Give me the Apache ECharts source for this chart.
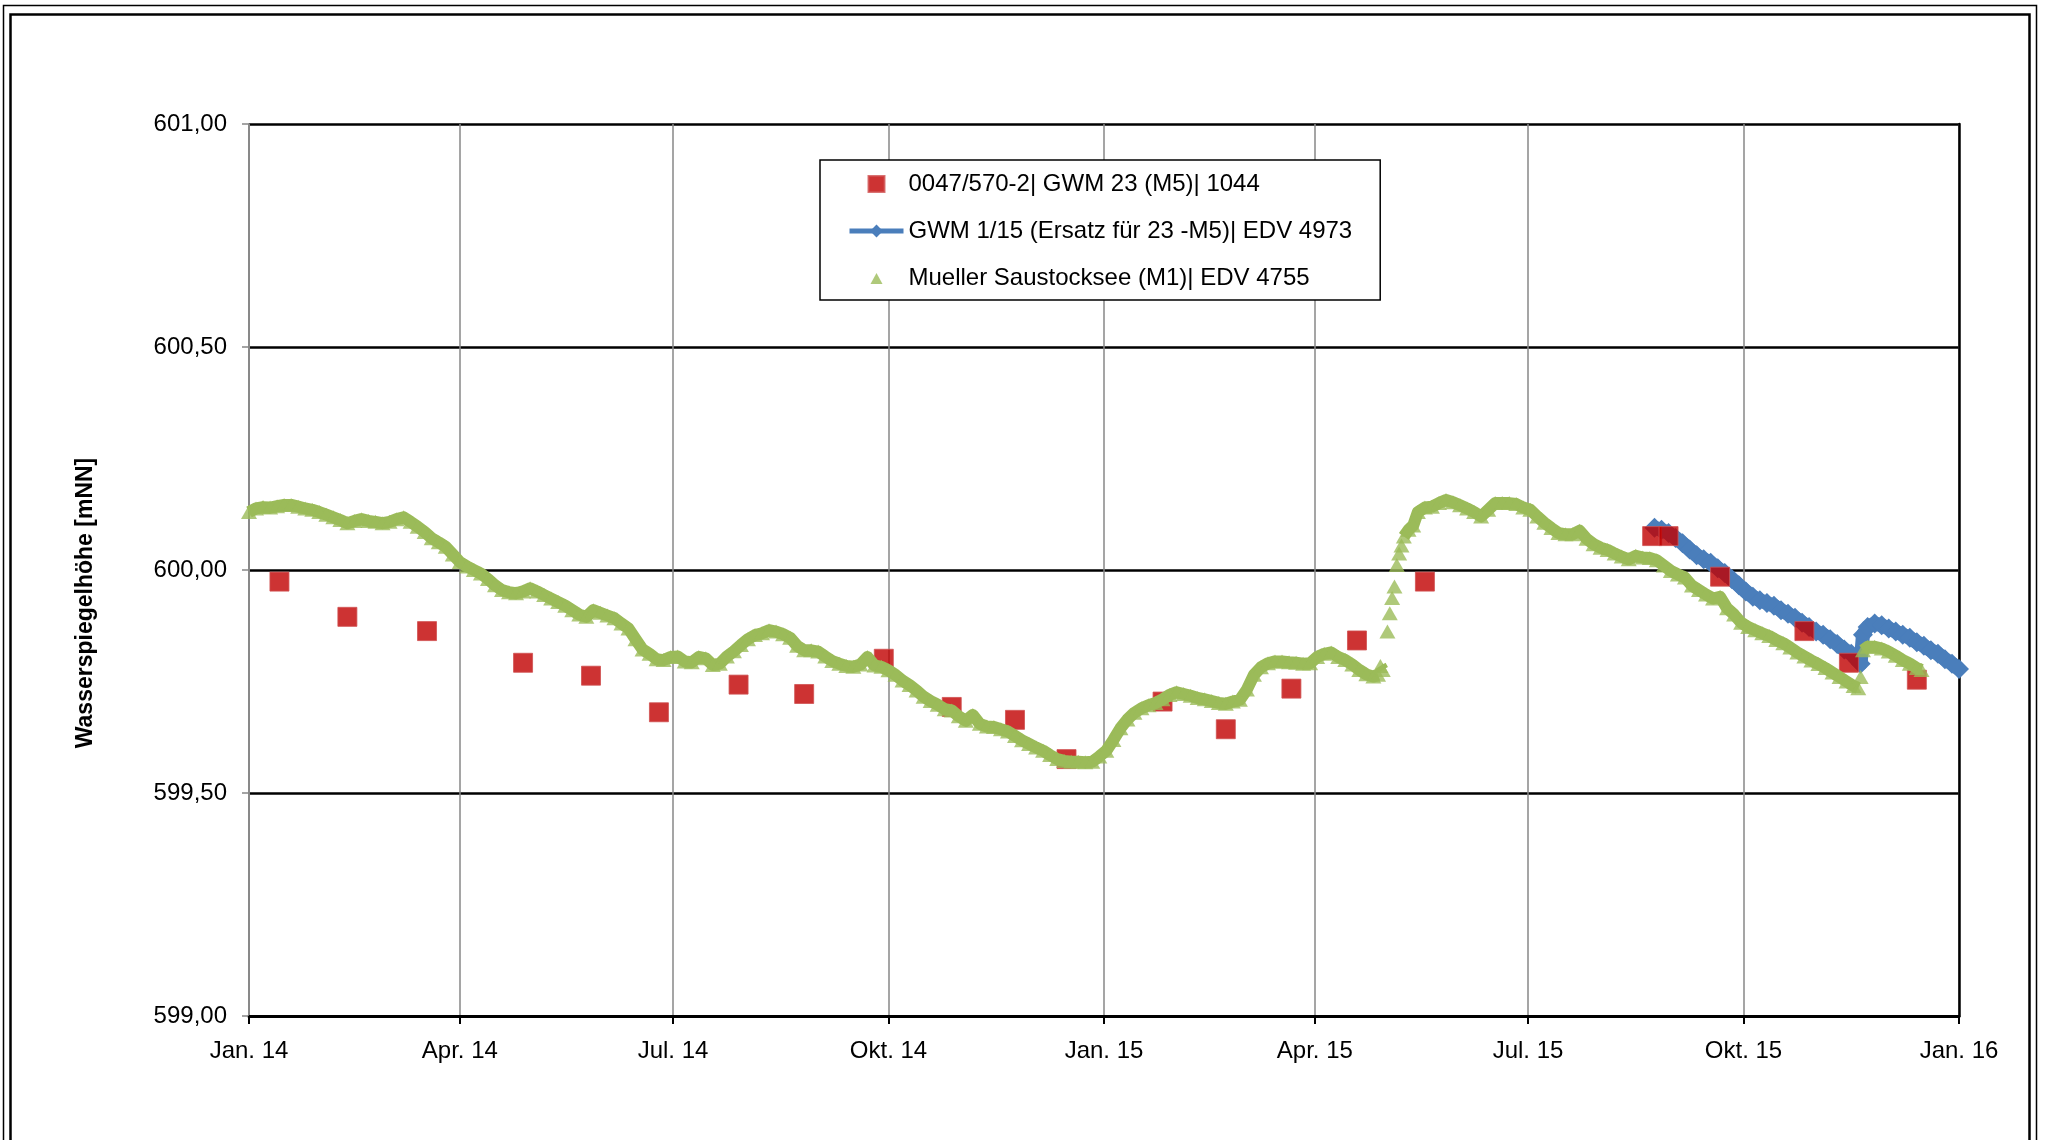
<!DOCTYPE html>
<html>
<head>
<meta charset="utf-8">
<title>Wasserspiegelhöhe</title>
<script src="https://cdn.jsdelivr.net/npm/echarts@6/dist/echarts.min.js"></script>
<style>
  html, body { margin: 0; padding: 0; background: #ffffff; }
  #chart { width: 2045px; height: 1140px; }
</style>
</head>
<body>
<div id="chart"></div>
<script>
// Series names as shown in the legend
const nameGwm23 = '0047/570-2| GWM 23 (M5)| 1044';
const nameGwm115 = 'GWM 1/15 (Ersatz für 23 -M5)| EDV 4973';
const nameSee = 'Mueller Saustocksee (M1)| EDV 4755';

// Tick labels
const monthLabels = { 0: 'Jan.', 3: 'Apr.', 6: 'Jul.', 9: 'Okt.' };
const yMin = 599, yMax = 601, yStep = 0.5;

// GWM 23 (M5): manual readings [date, water level mNN]
const gwm23 = [
  ['2014-01-14', 599.974], ['2014-02-12', 599.895], ['2014-03-18', 599.863],
  ['2014-04-28', 599.792], ['2014-05-27', 599.763], ['2014-06-25', 599.681],
  ['2014-07-29', 599.743], ['2014-08-26', 599.722], ['2014-09-29', 599.801],
  ['2014-10-28', 599.693], ['2014-11-24', 599.664], ['2014-12-16', 599.576],
  ['2015-01-26', 599.705], ['2015-02-22', 599.643], ['2015-03-22', 599.734],
  ['2015-04-19', 599.842], ['2015-05-18', 599.974], ['2015-08-23', 600.076],
  ['2015-08-30', 600.076], ['2015-09-21', 599.985], ['2015-10-27', 599.863],
  ['2015-11-15', 599.792], ['2015-12-14', 599.754]
];

// GWM 1/15 logger: [days since 1 Jan 2014, water level mNN]
const gwm115 = [
  [600, 600.095], [603, 600.090], [606, 600.083], [609, 600.072], [612, 600.060],
  [615, 600.046], [618, 600.033], [621, 600.024], [624, 600.016], [627, 600.004],
  [630, 599.993], [633, 599.980], [636, 599.966], [639, 599.952], [642, 599.940],
  [645, 599.932], [648, 599.926], [651, 599.920], [654, 599.910], [657, 599.902],
  [660, 599.893], [663, 599.882], [666, 599.872], [669, 599.862], [672, 599.855],
  [675, 599.845], [678, 599.834], [681, 599.822], [684, 599.812], [687, 599.796],
  [688, 599.790], [689, 599.855], [691, 599.872], [694, 599.880], [697, 599.876],
  [700, 599.869], [703, 599.862], [706, 599.855], [709, 599.848], [712, 599.838],
  [715, 599.830], [718, 599.820], [721, 599.812], [724, 599.800], [727, 599.790],
  [730, 599.778]
];

// Saustocksee gauge: [days since 1 Jan 2014, water level mNN]
const saustocksee = [
  [0, 600.130], [3, 600.138], [6, 600.141], [9, 600.140], [12, 600.143], [15, 600.146], [18, 600.146], [21, 600.142], [24, 600.138], [27, 600.135],
  [30, 600.130], [33, 600.124], [36, 600.118], [39, 600.112], [42, 600.105], [45, 600.110], [48, 600.114], [51, 600.110], [54, 600.108], [57, 600.105],
  [60, 600.108], [63, 600.114], [66, 600.118], [69, 600.108], [72, 600.097], [75, 600.085], [78, 600.071], [81, 600.062], [84, 600.052], [87, 600.035],
  [90, 600.018], [93, 600.008], [96, 600.000], [99, 599.992], [102, 599.980], [105, 599.966], [108, 599.955], [111, 599.950], [114, 599.948], [117, 599.952],
  [120, 599.959], [123, 599.952], [126, 599.944], [129, 599.936], [132, 599.928], [135, 599.920], [138, 599.910], [141, 599.900], [144, 599.895], [147, 599.910],
  [150, 599.904], [153, 599.898], [156, 599.892], [159, 599.880], [162, 599.869], [165, 599.845], [168, 599.822], [171, 599.812], [174, 599.800], [177, 599.798],
  [180, 599.805], [183, 599.806], [186, 599.795], [189, 599.793], [192, 599.805], [195, 599.802], [198, 599.787], [201, 599.790], [204, 599.806], [207, 599.818],
  [210, 599.832], [213, 599.845], [216, 599.854], [219, 599.858], [222, 599.865], [225, 599.862], [228, 599.856], [231, 599.848], [234, 599.830], [237, 599.820],
  [240, 599.820], [243, 599.817], [246, 599.806], [249, 599.796], [252, 599.790], [255, 599.785], [258, 599.783], [261, 599.788], [264, 599.805], [267, 599.786],
  [270, 599.783], [273, 599.775], [276, 599.765], [279, 599.752], [282, 599.742], [285, 599.730], [288, 599.716], [291, 599.706], [294, 599.698], [297, 599.688],
  [300, 599.685], [303, 599.672], [306, 599.662], [309, 599.675], [312, 599.655], [315, 599.649], [318, 599.648], [321, 599.643], [324, 599.638], [327, 599.628],
  [330, 599.618], [333, 599.610], [336, 599.602], [339, 599.595], [342, 599.585], [345, 599.576], [348, 599.572], [351, 599.570], [354, 599.570], [357, 599.569],
  [360, 599.570], [363, 599.582], [366, 599.595], [369, 599.619], [372, 599.645], [375, 599.665], [378, 599.680], [381, 599.690], [384, 599.697], [387, 599.702],
  [390, 599.710], [393, 599.720], [396, 599.726], [399, 599.722], [402, 599.718], [405, 599.713], [408, 599.710], [411, 599.706], [414, 599.702], [417, 599.700],
  [420, 599.705], [423, 599.709], [426, 599.732], [429, 599.765], [432, 599.782], [435, 599.791], [438, 599.795], [441, 599.795], [444, 599.793], [447, 599.792],
  [450, 599.790], [453, 599.791], [456, 599.805], [459, 599.812], [462, 599.815], [465, 599.805], [468, 599.798], [471, 599.788], [474, 599.776], [477, 599.766],
  [480, 599.761], [482, 599.765], [483, 599.785], [484, 599.776], [486, 599.862], [487, 599.903], [488, 599.937], [489, 599.963], [490, 600.011], [491, 600.037],
  [492, 600.055], [493, 600.075], [495, 600.090], [497, 600.100], [499, 600.130], [502, 600.140], [505, 600.142], [508, 600.150], [511, 600.157], [514, 600.152],
  [517, 600.145], [520, 600.138], [523, 600.130], [526, 600.120], [529, 600.135], [532, 600.150], [535, 600.150], [538, 600.150], [541, 600.148], [544, 600.140],
  [547, 600.135], [550, 600.120], [553, 600.106], [556, 600.094], [559, 600.083], [562, 600.080], [565, 600.080], [568, 600.088], [571, 600.070], [574, 600.058],
  [577, 600.050], [580, 600.045], [583, 600.037], [586, 600.030], [589, 600.024], [592, 600.032], [595, 600.028], [598, 600.027], [601, 600.022], [604, 600.010],
  [607, 599.998], [610, 599.990], [613, 599.983], [616, 599.965], [619, 599.955], [622, 599.945], [625, 599.936], [628, 599.940], [631, 599.914], [634, 599.900],
  [637, 599.882], [640, 599.872], [643, 599.865], [646, 599.858], [649, 599.852], [652, 599.843], [655, 599.836], [658, 599.826], [661, 599.815], [664, 599.806],
  [667, 599.797], [670, 599.789], [673, 599.780], [676, 599.770], [679, 599.760], [682, 599.750], [685, 599.740], [687, 599.735], [688, 599.760], [689, 599.820],
  [691, 599.828], [694, 599.828], [697, 599.824], [700, 599.817], [703, 599.808], [706, 599.798], [709, 599.790], [712, 599.780], [714, 599.776]
];

const FONT = '"Liberation Sans", Arial, sans-serif';
const DAY = 24 * 3600 * 1000;

function dayToTime(d) {
  return new Date(2014, 0, 1 + d).getTime();
}
function dateToTime(s) {
  const p = s.split('-').map(Number);
  return new Date(p[0], p[1] - 1, p[2]).getTime();
}

// The dense daily gauge markers merge into a solid band; draw that band as a
// thick line under the markers, broken wherever the level changes faster than
// 1.5 cm per day so fast rises show as single markers.
const seeBand = [];
saustocksee.forEach(function (r, i) {
  if (i > 0) {
    const prev = saustocksee[i - 1];
    if (Math.abs(r[1] - prev[1]) / (r[0] - prev[0]) > 0.015) {
      seeBand.push([dayToTime((r[0] + prev[0]) / 2), '-']);
    }
  }
  seeBand.push([dayToTime(r[0]), r[1]]);
});

const chart = echarts.init(document.getElementById('chart'), null, { renderer: 'canvas' });

chart.setOption({
  animation: false,
  backgroundColor: '#ffffff',
  textStyle: { fontFamily: FONT, color: '#000' },
  grid: { left: 249, right: 86, top: 124, bottom: 124, containLabel: false },
  legend: {
    orient: 'vertical',
    left: 820,
    top: 160,
    padding: [12, 28, 10, 27],
    itemWidth: 54,
    itemHeight: 16,
    itemGap: 23,
    borderColor: '#000',
    borderWidth: 1.5,
    backgroundColor: '#fff',
    symbolKeepAspect: true,
    lineStyle: { width: 5 },
    textStyle: { fontFamily: FONT, fontSize: 24, color: '#000' },
    data: [
      { name: nameGwm23, icon: 'path://M0,0L10,0L10,10L0,10Z' },
      { name: nameGwm115 },
      { name: nameSee, icon: 'path://M0,0M16,16M2,14L8,3L14,14Z' }
    ]
  },
  xAxis: {
    type: 'time',
    min: dayToTime(0),
    max: dayToTime(730),
    splitNumber: 8,
    minInterval: 89 * DAY,
    maxInterval: 92 * DAY,
    axisLine: { show: true, onZero: false, lineStyle: { color: '#000', width: 3 } },
    axisTick: { show: true, length: 8, lineStyle: { color: '#000', width: 2 } },
    axisLabel: {
      fontFamily: FONT, fontSize: 24, color: '#000', margin: 23,
      hideOverlap: false, showMinLabel: true, showMaxLabel: true,
      formatter: function (val) {
        const d = new Date(val);
        const m = monthLabels[d.getMonth()];
        return (m || '') + ' ' + String(d.getFullYear()).slice(2);
      }
    },
    splitLine: { show: true, lineStyle: { color: '#878787', width: 1.5 } }
  },
  yAxis: [
    {
      type: 'value',
      min: yMin, max: yMax, interval: yStep,
      axisLine: { show: true, lineStyle: { color: '#878787', width: 1.5 } },
      axisTick: { show: true, length: 7, lineStyle: { color: '#878787', width: 1.5 } },
      axisLabel: {
        fontFamily: FONT, fontSize: 24, color: '#000', margin: 22,
        formatter: function (v) { return v.toFixed(2).replace('.', ','); }
      },
      splitLine: { show: true, lineStyle: { color: '#000', width: 2.5 } }
    },
    {
      type: 'value', position: 'right',
      min: yMin, max: yMax, interval: yStep,
      axisLine: { show: true, lineStyle: { color: '#000', width: 2.5 } },
      axisTick: { show: false }, axisLabel: { show: false }, splitLine: { show: false }
    }
  ],
  graphic: [
    { type: 'rect', silent: true, shape: { x: 3.5, y: 5.5, width: 2033, height: 1200 },
      style: { fill: 'none', stroke: '#000', lineWidth: 1.5 } },
    { type: 'rect', silent: true, shape: { x: 10.5, y: 14.5, width: 2019, height: 1200 },
      style: { fill: 'none', stroke: '#000', lineWidth: 2.5 } },
    { type: 'text', silent: true, x: 86, y: 603, rotation: Math.PI / 2,
      style: { text: 'Wasserspiegelhöhe [mNN]', fontFamily: FONT, fontWeight: 'bold',
               fontSize: 23, fill: '#000', align: 'center', verticalAlign: 'middle' } }
  ],
  series: [
    {
      name: nameGwm23,
      type: 'scatter',
      z: 3,
      symbol: 'rect',
      symbolSize: 19,
      itemStyle: { color: '#C00000', borderColor: '#CF5050', borderWidth: 1 },
      data: gwm23.map(function (r) { return [dateToTime(r[0]), r[1]]; })
    },
    {
      name: nameGwm115,
      type: 'line',
      z: 2,
      symbol: 'diamond',
      symbolSize: 20,
      showSymbol: true,
      showAllSymbol: true,
      lineStyle: { color: '#4A7EBB', width: 14, join: 'round' },
      itemStyle: { color: '#4A7EBB' },
      data: gwm115.map(function (r) { return [dayToTime(r[0]), r[1]]; })
    },
    {
      name: nameSee,
      type: 'scatter',
      z: 5,
      symbol: 'triangle',
      symbolSize: [16, 14],
      itemStyle: { color: '#9BBB59' },
      data: saustocksee.map(function (r) { return [dayToTime(r[0]), r[1]]; })
    },
    {
      name: nameSee,
      type: 'line',
      z: 4,
      silent: true,
      symbol: 'none',
      connectNulls: false,
      lineStyle: { color: '#9BBB59', width: 12, join: 'round' },
      itemStyle: { color: '#9BBB59' },
      data: seeBand
    }
  ]
});
</script>
</body>
</html>
